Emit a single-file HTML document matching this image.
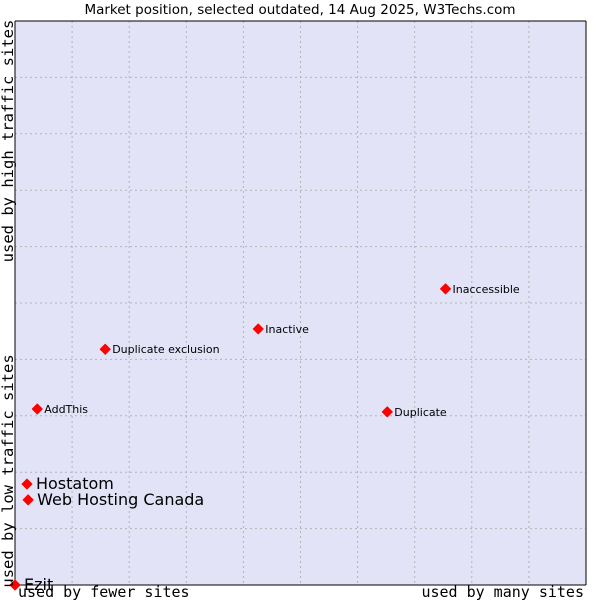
<!DOCTYPE html>
<html><head><meta charset="utf-8"><style>
body{margin:0;background:#fff;width:600px;height:600px;overflow:hidden}
svg{display:block}
</style></head><body>
<svg id="chart" width="600" height="600">
<text x="300" y="14" text-anchor="middle" font-family="DejaVu Sans, sans-serif" font-size="13.5">Market position, selected outdated, 14 Aug 2025, W3Techs.com</text>
<rect x="15" y="21" width="571" height="564" fill="#e3e3f7"/>
<g id="grid"></g>
<line x1="15" y1="21" x2="15" y2="585" stroke="#000"/>
<line x1="15" y1="585" x2="586" y2="585" stroke="#000"/>
<line x1="15" y1="21" x2="586" y2="21" stroke="#000"/>
<line x1="586" y1="21" x2="586" y2="585" stroke="#000"/>
<g id="points"></g>
<text x="18" y="597" font-family="DejaVu Sans Mono, monospace" font-size="15">used by fewer sites</text>
<text x="584" y="597" text-anchor="end" font-family="DejaVu Sans Mono, monospace" font-size="15">used by many sites</text>
<text transform="translate(13,141) rotate(-90)" text-anchor="middle" font-family="DejaVu Sans Mono, monospace" font-size="15.5">used by high traffic sites</text>
<text transform="translate(13,471) rotate(-90)" text-anchor="middle" font-family="DejaVu Sans Mono, monospace" font-size="15.5">used by low traffic sites</text>
</svg>
<script>
const names=["Ezit","Hostatom","Web Hosting Canada","AddThis","Duplicate exclusion","Inactive","Duplicate","Inaccessible"];
const xValues=[0,2.1,2.3,3.9,15.8,42.6,65.2,75.4];
const yValues=[0,17.9,15.1,31.2,41.8,45.4,30.7,52.5];
const bigLabels=[true,true,true,false,false,false,false,false];
const L=15,R=586,T=21,B=585;
const sx=v=>L+v/100*(R-L), sy=v=>B-v/100*(B-T);
const NS="http://www.w3.org/2000/svg";
const grid=document.getElementById('grid');
for(let i=1;i<10;i++){
  const v=document.createElementNS(NS,'line');
  
  
  v.setAttribute('x1',sx(i*10));v.setAttribute('x2',sx(i*10));v.setAttribute('y1',T);v.setAttribute('y2',B);
  v.setAttribute('stroke','#b4b4b4');v.setAttribute('stroke-dasharray','2,3');grid.appendChild(v);
  const h=document.createElementNS(NS,'line');
  
  
  h.setAttribute('y1',sy(i*10));h.setAttribute('y2',sy(i*10));h.setAttribute('x1',L);h.setAttribute('x2',R);
  h.setAttribute('stroke','#b4b4b4');h.setAttribute('stroke-dasharray','2,3');grid.appendChild(h);
}
const pts=document.getElementById('points');
names.forEach((n,i)=>{
  const x=sx(xValues[i]),y=sy(yValues[i]);
  const p=document.createElementNS(NS,'polygon');
  
  
  p.setAttribute('points',`${x},${y-5} ${x+5},${y} ${x},${y+5} ${x-5},${y}`);
  p.setAttribute('fill','#f00');p.setAttribute('stroke','#f00');p.setAttribute('stroke-linejoin','round');
  pts.appendChild(p);
  const t=document.createElementNS(NS,'text');
  
  
  const big=bigLabels[i];
  t.setAttribute('x',x+(big?9:7));t.setAttribute('y',y+(big?5:4));
  t.setAttribute('font-family','DejaVu Sans, sans-serif');
  t.setAttribute('font-size',big?16:11);
  t.textContent=n;pts.appendChild(t);
});
</script>
</body></html>
